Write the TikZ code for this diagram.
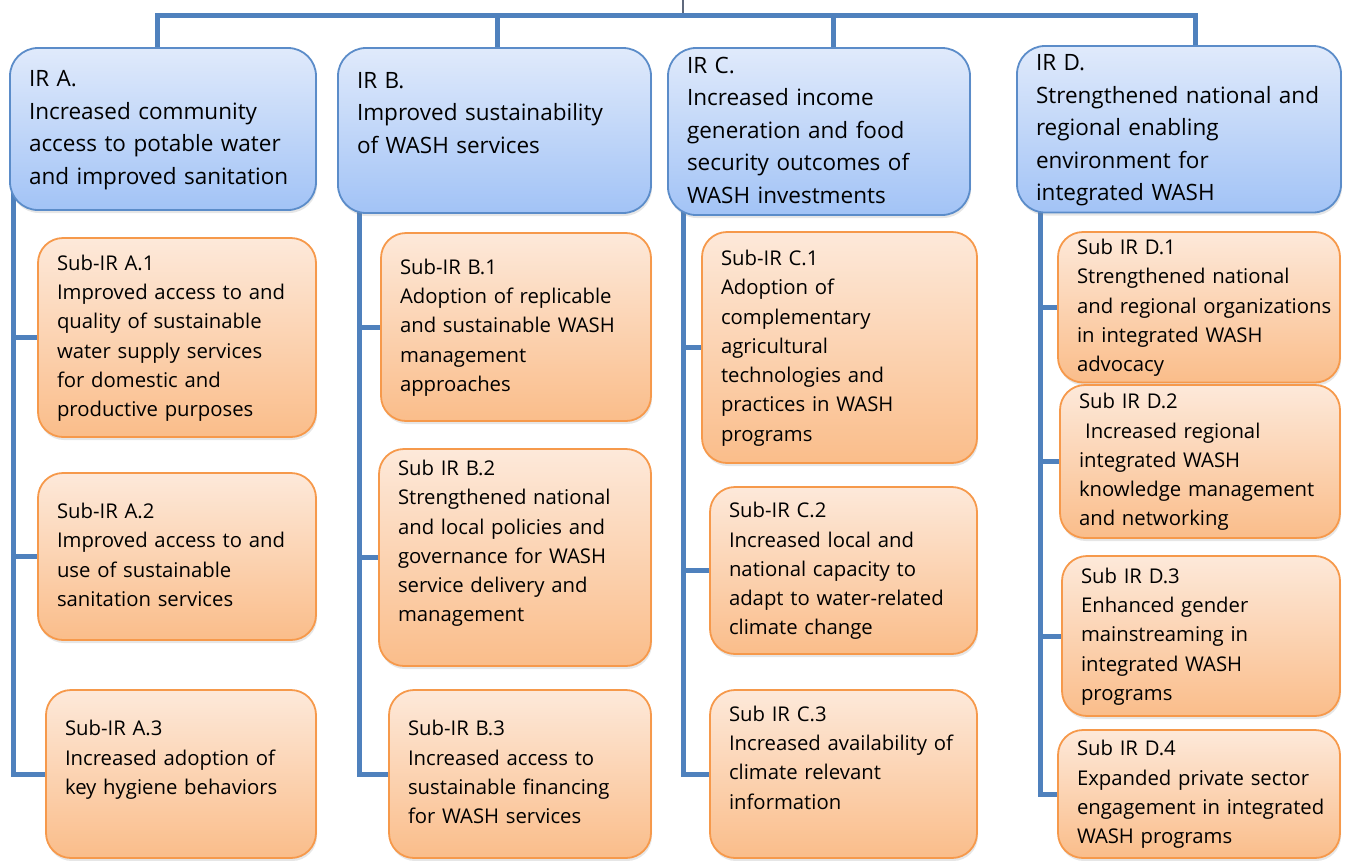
\documentclass[tikz,border=0pt]{standalone}
\usepackage{fontspec}
\setmainfont{Open Sans}
\usepackage{tikz}
\usetikzlibrary{positioning,shadows,backgrounds}

\definecolor{irline}{RGB}{91,140,201}
\definecolor{irtop}{RGB}{224,234,251}
\definecolor{irbot}{RGB}{162,195,246}
\definecolor{subline}{RGB}{246,153,75}
\definecolor{subtop}{RGB}{253,233,218}
\definecolor{subbot}{RGB}{250,189,138}
\definecolor{linkblue}{RGB}{79,129,189}
\definecolor{stemgray}{RGB}{95,105,125}

\newcommand{\irfont}{\fontsize{22.5}{32.5}\selectfont}
\newcommand{\subirfont}{\fontsize{20.3}{29.3}\selectfont}
% keep the line breaks of the picture, never wrap
\newcommand{\boxlines}[1]{\begin{tabular}[t]{@{}l@{}}#1\end{tabular}}

\begin{document}
\begin{tikzpicture}[x=1pt, y=-1pt,
    every node/.style={outer sep=0pt},
    irbox/.style={draw=irline, line width=1.8pt, rounded corners=28pt,
        top color=irtop, bottom color=irbot, anchor=north west, align=left,
        inner xsep=19pt, inner ysep=2pt, font=\irfont,
        drop shadow={shadow xshift=1pt, shadow yshift=-3pt, opacity=0.2}},
    subbox/.style={irbox, draw=subline, top color=subtop, bottom color=subbot,
        rounded corners=25pt, font=\subirfont},
    link/.style={draw=linkblue, line width=5pt},
    stem/.style={draw=stemgray, line width=1.2pt}]
    \useasboundingbox (0,0) rectangle (1348,860);
    % intermediate results
    \node (irA) [irbox, minimum width=306, minimum height=162, text width=268] at (10,48)
        {\boxlines{IR A.\\Increased community\\access to potable water\\and improved sanitation}};
    \node (irB) [irbox, minimum width=313, minimum height=165, text width=275] at (338,48)
        {\boxlines{IR B.\\Improved sustainability\\of WASH services\\\mbox{}}};
    \node (irC) [irbox, minimum width=302, minimum height=167, text width=264] at (668,48)
        {\boxlines{IR C.\\Increased income\\generation and food\\security outcomes of\\WASH investments}};
    \node (irD) [irbox, minimum width=324, minimum height=164, text width=286] at (1017,46)
        {\boxlines{IR D.\\Strengthened national and\\regional enabling\\environment for\\integrated WASH}};
    % sub results A
    \node (subA1) [subbox, minimum width=278, minimum height=199, text width=240] at (38,238)
        {\boxlines{Sub-IR A.1\\Improved access to and\\quality of sustainable\\water supply services\\for domestic and\\productive purposes}};
    \node (subA2) [subbox, minimum width=278, minimum height=167, text width=240] at (38,473)
        {\boxlines{Sub-IR A.2\\Improved access to and\\use of sustainable\\sanitation services}};
    \node (subA3) [subbox, minimum width=270, minimum height=168, text width=232] at (46,690)
        {\boxlines{Sub-IR A.3\\Increased adoption of\\key hygiene behaviors\\\mbox{}}};
    % sub results B
    \node (subB1) [subbox, minimum width=270, minimum height=188, text width=232] at (381,233)
        {\boxlines{Sub-IR B.1\\Adoption of replicable\\and sustainable WASH\\management\\approaches}};
    \node (subB2) [subbox, minimum width=272, minimum height=217, text width=234] at (379,449)
        {\boxlines{Sub IR B.2\\Strengthened national\\and local policies and\\governance for WASH\\service delivery and\\management\\\mbox{}}};
    \node (subB3) [subbox, minimum width=262, minimum height=168, text width=224] at (389,690)
        {\boxlines{Sub-IR B.3\\Increased access to\\sustainable financing\\for WASH services}};
    % sub results C
    \node (subC1) [subbox, minimum width=275, minimum height=231, text width=237] at (702,232)
        {\boxlines{Sub-IR C.1\\Adoption of\\complementary\\agricultural\\technologies and\\practices in WASH\\programs}};
    \node (subC2) [subbox, minimum width=267, minimum height=167, text width=229] at (710,487)
        {\boxlines{Sub-IR C.2\\Increased local and\\national capacity to\\adapt to water-related\\climate change}};
    \node (subC3) [subbox, minimum width=267, minimum height=168, text width=229] at (710,690)
        {\boxlines{Sub IR C.3\\Increased availability of\\climate relevant\\information\\\mbox{}}};
    % sub results D
    \node (subD1) [subbox, minimum width=282, minimum height=141, text width=244] at (1058,232)
        {\boxlines{Sub IR D.1\\Strengthened national\\and regional organizations\\in integrated WASH\\advocacy}};
    \node (subD2) [subbox, minimum width=280, minimum height=153, text width=242] at (1060,385)
        {\boxlines{Sub IR D.2\\\hspace*{0.3em}Increased regional\\integrated WASH\\knowledge management\\and networking}};
    \node (subD3) [subbox, minimum width=278, minimum height=160, text width=240] at (1062,556)
        {\boxlines{Sub IR D.3\\Enhanced gender\\mainstreaming in\\integrated WASH\\programs}};
    \node (subD4) [subbox, minimum width=282, minimum height=128, text width=244] at (1058,730)
        {\boxlines{Sub IR D.4\\Expanded private sector\\engagement in integrated\\WASH programs}};

    \begin{scope}[on background layer]
        % top bar
        \coordinate (root) at (683,0);
        \coordinate (hub) at (683,15);
        \draw [stem] (root) -- (hub);
        \draw [link] ([xshift=-6pt]irA.north) |- (hub);
        \draw [link] ([xshift=16pt]irD.north) |- (hub);
        \draw [link] ([xshift=2.5pt]irB.north) |- (hub);
        \draw [link] ([xshift=14pt]irC.north) |- (hub);
        % spines
        \coordinate (spineA) at ([xshift=3pt]irA.west);
        \coordinate (spineB) at ([xshift=21pt]irB.west);
        \coordinate (spineC) at ([xshift=15pt]irC.west);
        \coordinate (spineD) at ([xshift=23pt]irD.west);
        \draw [link] (spineA) |- (subA3.west);
        \draw [link] (spineB) |- (subB3.west);
        \draw [link] (spineC) |- (subC3.west);
        \draw [link] (spineD) |- (subD4.west);
        \foreach \s/\b in {A/subA1,A/subA2,B/subB1,B/subB2,C/subC1,C/subC2,D/subD1,D/subD2,D/subD3}
            \draw [link] (spine\s |- \b.west) -- (\b.west);
    \end{scope}
\end{tikzpicture}
\end{document}
